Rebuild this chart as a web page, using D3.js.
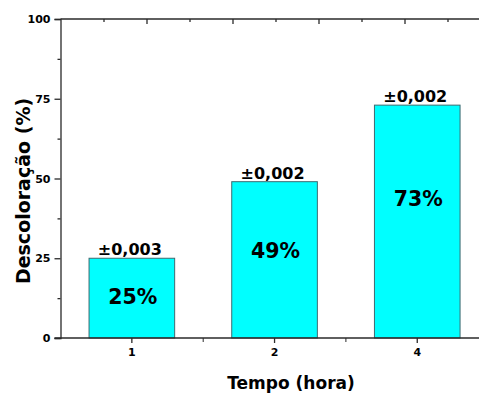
<!DOCTYPE html>
<html>
<head>
<meta charset="utf-8">
<script src="https://cdn.jsdelivr.net/npm/d3@7"></script>
<style>
  html, body { margin: 0; padding: 0; background: #fff; }
  svg { display: block; }
  text { font-family: "DejaVu Sans", Verdana, sans-serif; font-weight: bold; fill: #000; }
</style>
</head>
<body>
<svg id="chart" width="479" height="394"></svg>
<script>
// Decolouring over time
const categories = ["1", "2", "4"];
const values = [25, 49, 73];
const errors = ["±0,003", "±0,002", "±0,002"];
const yTicks = [0, 25, 50, 75, 100];
const xTitle = "Tempo (hora)";
const yTitle = "Descoloração (%)";

const svg = d3.select("#chart");
const m = { left: 60.5, top: 19, bottom: 338, right: 479 };

const y = d3.scaleLinear().domain([0, 100]).range([m.bottom, m.top]);
const x = d3.scaleBand().domain(categories)
  .range([m.left, m.left + 3 * 142.7]).paddingInner(0.4).paddingOuter(0.2);

const axisColor = "#2a2a2a";

// Bars
svg.append("g").selectAll("rect").data(values).join("rect")
  .attr("x", (d, i) => x(categories[i]))
  .attr("y", d => y(d))
  .attr("width", x.bandwidth())
  .attr("height", d => y(0) - y(d))
  .attr("fill", "#00ffff")
  .attr("stroke", "#3f6a70")
  .attr("stroke-width", 1);

// Error annotations above bars
svg.append("g").selectAll("text").data(values).join("text")
  .attr("x", (d, i) => x(categories[i]) + x.bandwidth() / 2 - 2)
  .attr("y", d => y(d) - 3)
  .attr("text-anchor", "middle")
  .attr("font-size", 16)
  .text((d, i) => errors[i]);

// Value labels inside bars, sitting a little above mid-height (higher for taller bars)
const labelLevel = d => d * (0.48 + d * 0.0016);
svg.append("g").selectAll("text").data(values).join("text")
  .attr("x", (d, i) => x(categories[i]) + x.bandwidth() / 2 + 1)
  .attr("y", d => y(labelLevel(d)))
  .attr("dy", "0.36em")
  .attr("text-anchor", "middle")
  .attr("font-size", 20.5)
  .text(d => d + "%");

// Left axis: major + minor ticks
const yAxis = svg.append("g").attr("transform", `translate(${m.left},0)`)
  .call(d3.axisLeft(y).tickValues(yTicks).tickSize(6).tickPadding(4).tickFormat(d3.format("d")));
yAxis.selectAll("text").attr("font-size", 11);
svg.append("g").attr("transform", `translate(${m.left},0)`)
  .call(d3.axisLeft(y).tickValues([12.5, 37.5, 62.5, 87.5]).tickSize(3).tickFormat(""))
  .select(".domain").remove();

// Bottom axis: category ticks + minor ticks between
const xAxis = svg.append("g").attr("transform", `translate(0,${m.bottom})`)
  .call(d3.axisBottom(x).tickSize(5).tickPadding(5));
xAxis.selectAll("text").attr("font-size", 11);
xAxis.select(".domain").attr("d", `M${m.left - 6},0H${m.right}`);
const mids = [0.5, 1.5].map(k => x(categories[0]) + x.bandwidth() / 2 + k * x.step());
svg.append("g").selectAll("line").data(mids).join("line")
  .attr("x1", d => d).attr("x2", d => d)
  .attr("y1", m.bottom).attr("y2", m.bottom + 4)
  .attr("stroke", axisColor);

// Top frame line with inward ticks
const xTop = d3.scaleLinear().domain([0, 10]).range([m.left, m.left + 430]);
const topAxis = svg.append("g").attr("transform", `translate(0,${m.top})`)
  .call(d3.axisBottom(xTop).tickValues([2, 4, 6, 8]).tickSize(5).tickFormat(""));
topAxis.select(".domain").attr("d", `M${m.left},0H${m.right}`);
svg.append("g").attr("transform", `translate(0,${m.top})`)
  .call(d3.axisBottom(xTop).tickValues([1, 3, 5, 7, 9]).tickSize(3).tickFormat(""))
  .select(".domain").remove();

svg.selectAll(".domain, .tick line").attr("stroke", axisColor).attr("stroke-width", 1.3);

// Axis titles
svg.append("text")
  .attr("x", 291).attr("y", 389)
  .attr("text-anchor", "middle")
  .attr("font-size", 17)
  .text(xTitle);

svg.append("text")
  .attr("transform", "translate(30,191) rotate(-90)")
  .attr("text-anchor", "middle")
  .attr("font-size", 19)
  .text(yTitle);
</script>
</body>
</html>
